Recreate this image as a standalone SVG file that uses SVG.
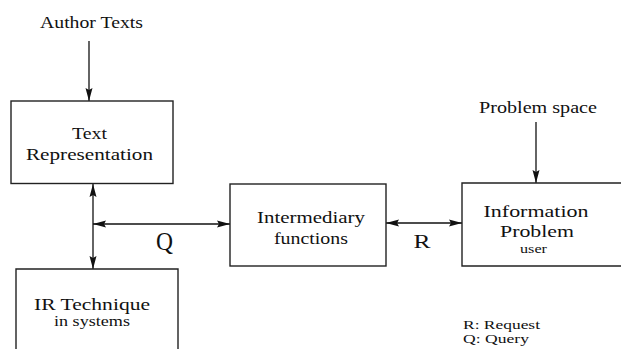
<svg xmlns="http://www.w3.org/2000/svg" width="621" height="349" viewBox="0 0 621 349">
<defs>
<marker id="ah" markerWidth="13" markerHeight="8" refX="13" refY="4" orient="auto-start-reverse" markerUnits="userSpaceOnUse">
<path d="M0,0.5 L13,4 L0,7.5 L2,4 Z" fill="#111"/>
</marker>
<style>
.box{fill:#fff;stroke:#222;stroke-width:1.4}
.ln{stroke:#111;stroke-width:1.3;fill:none}
.t{font-family:"Liberation Serif","DejaVu Serif",serif;fill:#111;text-anchor:middle}
.l{font-family:"Liberation Serif","DejaVu Serif",serif;fill:#111;font-size:12px}
</style>
</defs>
<rect width="621" height="349" fill="#fff"/>
<g id="connectors">
<line class="ln" x1="89" y1="41" x2="89" y2="101" marker-end="url(#ah)"/>
<line class="ln" x1="93" y1="184" x2="93" y2="269" marker-start="url(#ah)" marker-end="url(#ah)"/>
<line class="ln" x1="93" y1="224" x2="230" y2="224" marker-start="url(#ah)" marker-end="url(#ah)"/>
<line class="ln" x1="386" y1="223" x2="462" y2="223" marker-start="url(#ah)" marker-end="url(#ah)"/>
<line class="ln" x1="536" y1="122" x2="536" y2="183" marker-end="url(#ah)"/>
<text class="t" x="164.5" y="250" font-size="25" textLength="17" lengthAdjust="spacingAndGlyphs">Q</text>
<text class="t" x="422" y="248" font-size="19" textLength="17" lengthAdjust="spacingAndGlyphs">R</text>
</g>
<g id="author">
<text class="t" x="91.5" y="28" font-size="17" textLength="103" lengthAdjust="spacingAndGlyphs">Author Texts</text>
</g>
<g id="textrep">
<rect class="box" x="11" y="101" width="162" height="82.5"/>
<text class="t" x="89.5" y="139" font-size="17" textLength="35" lengthAdjust="spacingAndGlyphs">Text</text>
<text class="t" x="89.5" y="160" font-size="17" textLength="127" lengthAdjust="spacingAndGlyphs">Representation</text>
</g>
<g id="irtech">
<path class="box" d="M16,352 L16,269 L178,269 L178,352"/>
<text class="t" x="92" y="310" font-size="17" textLength="116" lengthAdjust="spacingAndGlyphs">IR Technique</text>
<text class="t" x="92" y="326" font-size="14" textLength="76" lengthAdjust="spacingAndGlyphs">in systems</text>
</g>
<g id="intermediary">
<rect class="box" x="230" y="184" width="156" height="82"/>
<text class="t" x="311" y="223" font-size="17" textLength="108" lengthAdjust="spacingAndGlyphs">Intermediary</text>
<text class="t" x="311" y="244" font-size="17" textLength="74" lengthAdjust="spacingAndGlyphs">functions</text>
</g>
<g id="problemspace">
<text class="t" x="538" y="113" font-size="16" textLength="118" lengthAdjust="spacingAndGlyphs">Problem space</text>
</g>
<g id="infoproblem">
<path class="box" d="M624,183 L462,183 L462,266 L624,266"/>
<text class="t" x="536" y="217" font-size="17" textLength="105" lengthAdjust="spacingAndGlyphs">Information</text>
<text class="t" x="537" y="237" font-size="17" textLength="74" lengthAdjust="spacingAndGlyphs">Problem</text>
<text class="t" x="533.5" y="253" font-size="13" textLength="27" lengthAdjust="spacingAndGlyphs">user</text>
</g>
<g id="legend">
<text class="l" x="463" y="329" textLength="77" lengthAdjust="spacingAndGlyphs">R: Request</text>
<text class="l" x="463" y="343" textLength="66" lengthAdjust="spacingAndGlyphs">Q: Query</text>
</g>
</svg>
